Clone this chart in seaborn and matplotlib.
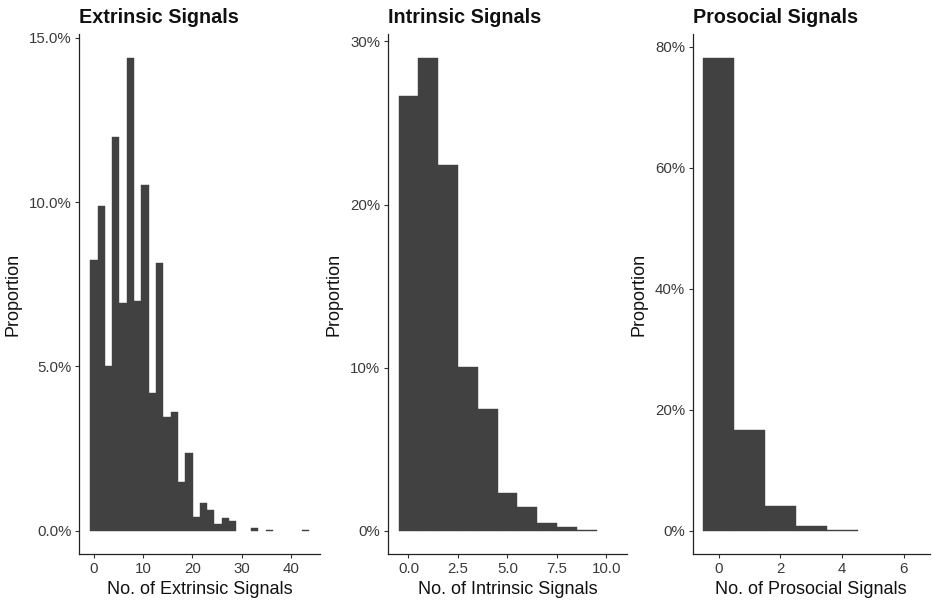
import numpy as np
import pandas as pd
import matplotlib
matplotlib.use("Agg")
import matplotlib.pyplot as plt
from matplotlib.ticker import PercentFormatter, FixedLocator
import seaborn as sns

# ---------------- data (proportions in %) ----------------
extrinsic_max = 43
extrinsic_props = [8.23, 9.89, 5.00, 11.99, 6.94, 14.38, 6.99, 10.52, 4.20, 8.16,
                   3.45, 3.61, 1.47, 2.37, 0.41, 0.83, 0.63, 0.20, 0.39, 0.30,
                   0.0, 0.0, 0.08, 0.0, 0.03, 0.0, 0.0, 0.0, 0.0, 0.03]

intrinsic_values = [0, 1, 2, 3, 4, 5, 6, 7, 8, 9, 10]
intrinsic_props = [26.67, 28.98, 22.44, 10.02, 7.47, 2.29, 1.47, 0.45, 0.20, 0.06, 0.0]

prosocial_values = [0, 1, 2, 3, 4, 5, 6]
prosocial_props = [78.1, 16.64, 4.08, 0.83, 0.10, 0.0, 0.0]

titles = ["Extrinsic Signals", "Intrinsic Signals", "Prosocial Signals"]
xlabels = ["No. of Extrinsic Signals", "No. of Intrinsic Signals", "No. of Prosocial Signals"]
xticks = [[0, 10, 20, 30, 40], [0.0, 2.5, 5.0, 7.5, 10.0], [0, 2, 4, 6]]
xticklabels = [["0", "10", "20", "30", "40"], ["0.0", "2.5", "5.0", "7.5", "10.0"], ["0", "2", "4", "6"]]
yticks = [[0, 5, 10, 15], [0, 10, 20, 30], [0, 20, 40, 60, 80]]
ydecimals = [1, 0, 0]

# ---------------- build frames ----------------
n_bins = len(extrinsic_props)
bw_ext = extrinsic_max / (n_bins - 1)
ext_centers = np.arange(n_bins) * bw_ext
ext_edges = np.arange(n_bins + 1) * bw_ext - bw_ext / 2

frames = [
    (pd.DataFrame({"x": ext_centers, "p": np.array(extrinsic_props) / 100}), ext_edges),
    (pd.DataFrame({"x": np.array(intrinsic_values, float), "p": np.array(intrinsic_props) / 100}),
     np.arange(len(intrinsic_values) + 1) - 0.5),
    (pd.DataFrame({"x": np.array(prosocial_values, float), "p": np.array(prosocial_props) / 100}),
     np.arange(len(prosocial_values) + 1) - 0.5),
]

sns.set_theme(style="ticks")
plt.rcParams["font.family"] = ["Liberation Sans", "DejaVu Sans"]

fig = plt.figure(figsize=(9.33, 6.04), dpi=100)
positions = [[0.085, 0.0823, 0.2584, 0.8606],
             [0.4155, 0.0823, 0.2568, 0.8606],
             [0.7424, 0.0823, 0.2543, 0.8606]]

fill = "#414141"

for i, ((df, edges), pos) in enumerate(zip(frames, positions)):
    ax = fig.add_axes(pos)
    sns.histplot(data=df, x="x", weights="p", bins=[float(e) for e in edges],
                 color=fill, edgecolor=fill, linewidth=0.3, alpha=1.0, ax=ax)
    for patch in ax.patches:
        if patch.get_height() <= 0:
            patch.set_visible(False)
    # limits like ggplot default expansion
    lo, hi = edges[0], edges[-1]
    span = hi - lo
    ax.set_xlim(lo - 0.05 * span, hi + 0.05 * span)
    ymax = df["p"].max()
    ax.set_ylim(-0.05 * ymax, 1.05 * ymax)

    ax.xaxis.set_major_locator(FixedLocator(xticks[i]))
    ax.set_xticklabels(xticklabels[i])
    ax.yaxis.set_major_locator(FixedLocator([v / 100 for v in yticks[i]]))
    ax.yaxis.set_major_formatter(PercentFormatter(xmax=1.0, decimals=ydecimals[i]))

    ax.tick_params(axis="both", which="major", length=3, width=0.8, color="#333333",
                   labelsize=10.8, labelcolor="#3a3a3a", pad=2.5)
    for s in ["top", "right"]:
        ax.spines[s].set_visible(False)
    for s in ["left", "bottom"]:
        ax.spines[s].set_color("#222222")
        ax.spines[s].set_linewidth(0.9)

    ax.set_xlabel(xlabels[i], fontsize=13, color="#111111", labelpad=4)
    ax.set_ylabel("Proportion", fontsize=13, color="#111111", labelpad=5)
    ax.set_title(titles[i], loc="left", fontsize=14.2, fontweight="bold", pad=8,
                 color="#111111")

fig.savefig("out.png", dpi=100)
